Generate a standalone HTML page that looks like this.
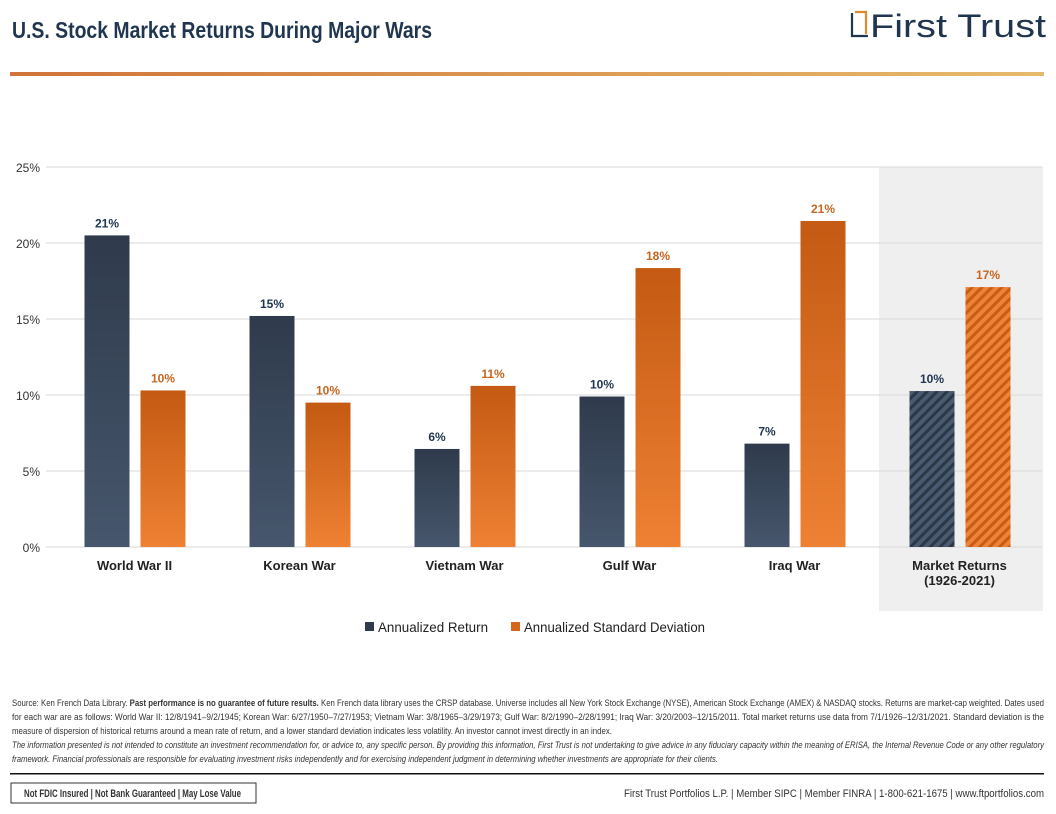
<!DOCTYPE html>
<html><head><meta charset="utf-8"><style>
html,body{margin:0;padding:0;background:#fff;}
body{width:1056px;height:809px;overflow:hidden;font-family:"Liberation Sans",sans-serif;}
</style></head><body>
<svg width="1056" height="809" viewBox="0 0 1056 809" xmlns="http://www.w3.org/2000/svg">
<defs>
<linearGradient id="gDark" x1="0" y1="0" x2="0" y2="1"><stop offset="0" stop-color="#2f3b4c"/><stop offset="1" stop-color="#46566c"/></linearGradient>
<linearGradient id="gOr" x1="0" y1="0" x2="0" y2="1"><stop offset="0" stop-color="#c45a13"/><stop offset="1" stop-color="#ee8133"/></linearGradient>
<linearGradient id="gRule" x1="0" y1="0" x2="1" y2="0"><stop offset="0" stop-color="#d0743a"/><stop offset="1" stop-color="#e6ba6c"/></linearGradient>
<pattern id="hDark" width="7" height="7" patternUnits="userSpaceOnUse" patternTransform="rotate(45)"><rect width="7" height="7" fill="#4a5a70"/><rect width="3" height="7" fill="#2c3848"/></pattern>
<pattern id="hOr" width="7" height="7" patternUnits="userSpaceOnUse" patternTransform="rotate(45)"><rect width="7" height="7" fill="#ee8236"/><rect width="3" height="7" fill="#c75c16"/></pattern>
</defs>
<text x="12" y="38" font-size="23" font-weight="bold" fill="#1f3550" textLength="420" lengthAdjust="spacingAndGlyphs">U.S. Stock Market Returns During Major Wars</text>
<g>
<path d="M852 13 L852 36 L868 36" fill="none" stroke="#1f3550" stroke-width="2.2"/>
<path d="M855 12 L866 12 L866 34" fill="none" stroke="#e08a2c" stroke-width="2.2"/>
<text x="870" y="37" font-size="32" fill="#1f3550" textLength="176" lengthAdjust="spacingAndGlyphs">First Trust</text>
</g>
<rect x="10" y="72" width="1034" height="4" fill="url(#gRule)"/>
<rect x="879" y="167" width="164" height="444" fill="#efefef"/>
<g id="chart"></g>
<g>
<rect x="365" y="622" width="9" height="9" fill="#2f3b4c"/>
<text x="378" y="632" font-size="14" fill="#222" textLength="110" lengthAdjust="spacingAndGlyphs">Annualized Return</text>
<rect x="511" y="622" width="9" height="9" fill="#d4661c"/>
<text x="524" y="632" font-size="14" fill="#222" textLength="181" lengthAdjust="spacingAndGlyphs">Annualized Standard Deviation</text>
</g>
<g font-size="9.5" fill="#333">
<text x="12" y="706" textLength="1032" lengthAdjust="spacingAndGlyphs">Source: Ken French Data Library. <tspan font-weight="bold">Past performance is no guarantee of future results.</tspan> Ken French data library uses the CRSP database. Universe includes all New York Stock Exchange (NYSE), American Stock Exchange (AMEX) &amp; NASDAQ stocks. Returns are market-cap weighted. Dates used</text>
<text x="12" y="720" textLength="1032" lengthAdjust="spacingAndGlyphs">for each war are as follows: World War II: 12/8/1941–9/2/1945; Korean War: 6/27/1950–7/27/1953; Vietnam War: 3/8/1965–3/29/1973; Gulf War: 8/2/1990–2/28/1991; Iraq War: 3/20/2003–12/15/2011. Total market returns use data from 7/1/1926–12/31/2021. Standard deviation is the</text>
<text x="12" y="734" textLength="600" lengthAdjust="spacingAndGlyphs">measure of dispersion of historical returns around a mean rate of return, and a lower standard deviation indicates less volatility. An investor cannot invest directly in an index.</text>
<text x="12" y="748" font-style="italic" textLength="1032" lengthAdjust="spacingAndGlyphs">The information presented is not intended to constitute an investment recommendation for, or advice to, any specific person. By providing this information, First Trust is not undertaking to give advice in any fiduciary capacity within the meaning of ERISA, the Internal Revenue Code or any other regulatory</text>
<text x="12" y="762" font-style="italic" textLength="706" lengthAdjust="spacingAndGlyphs">framework. Financial professionals are responsible for evaluating investment risks independently and for exercising independent judgment in determining whether investments are appropriate for their clients.</text>
</g>
<rect x="10" y="773" width="1034" height="1.5" fill="#111"/>
<rect x="11" y="783" width="245" height="20" fill="none" stroke="#333" stroke-width="1"/>
<text x="24" y="797" font-size="11" font-weight="bold" fill="#333" textLength="217" lengthAdjust="spacingAndGlyphs">Not FDIC Insured | Not Bank Guaranteed | May Lose Value</text>
<text x="624" y="797" font-size="11" fill="#333" textLength="420" lengthAdjust="spacingAndGlyphs">First Trust Portfolios L.P. | Member SIPC | Member FINRA | 1-800-621-1675 | www.ftportfolios.com</text>
</svg>
<script>
const categories = ["World War II","Korean War","Vietnam War","Gulf War","Iraq War","Market Returns"];
const categorySub = ["","","","","","(1926-2021)"];
const annualizedReturn = [20.5, 15.2, 6.45, 9.9, 6.8, 10.26];
const annualizedStdDev = [10.3, 9.5, 10.6, 18.35, 21.45, 17.1];
const yTicks = [0,5,10,15,20,25];

const NS="http://www.w3.org/2000/svg";
const g=document.getElementById('chart');
const x0=52, x1=1042, y0=547, yTop=167, yMax=25;
const yS=v=>y0-(v/yMax)*(y0-yTop);
const band=(x1-x0)/categories.length;
const xC=i=>x0+band*(i+0.5);
function mk(tag,attrs){const e=document.createElementNS(NS,tag);for(const k in attrs)e.setAttribute(k,attrs[k]);g.appendChild(e);return e;}
yTicks.forEach(t=>{
  const l=mk('line',{x1:x0-6,x2:x1,y1:yS(t),y2:yS(t),stroke:'#d9d9d9','stroke-width':1});
  
  
  const tx=mk('text',{x:40,y:yS(t)+5,'text-anchor':'end','font-size':12,fill:'#333'});
  tx.textContent=t+'%';
  
  
});
const bw=45;
categories.forEach((c,i)=>{
  const last=i===categories.length-1;
  const cx=xC(i);
  [[annualizedReturn[i],cx-50,last?'url(#hDark)':'url(#gDark)','#1f3550','return'],
   [annualizedStdDev[i],cx+6,last?'url(#hOr)':'url(#gOr)','#c7651f','stdev']].forEach(([v,bx,fill,lc,key])=>{
    const r=mk('rect',{x:bx,y:yS(v),width:bw,height:y0-yS(v),fill:fill});
    
    
    const t=mk('text',{x:bx+bw/2,y:yS(v)-8,'text-anchor':'middle','font-size':12,'font-weight':'bold',fill:lc});
    t.textContent=Math.round(v)+'%';
    
    
  });
  const cl=mk('text',{x:cx,y:570,'text-anchor':'middle','font-size':13,'font-weight':'bold',fill:'#222'});
  cl.textContent=c;
  
  
  if(categorySub[i]){
    const s=mk('text',{x:cx,y:585,'text-anchor':'middle','font-size':13,'font-weight':'bold',fill:'#222'});
    s.textContent=categorySub[i];
    
    
  }
});
</script>
</body></html>
